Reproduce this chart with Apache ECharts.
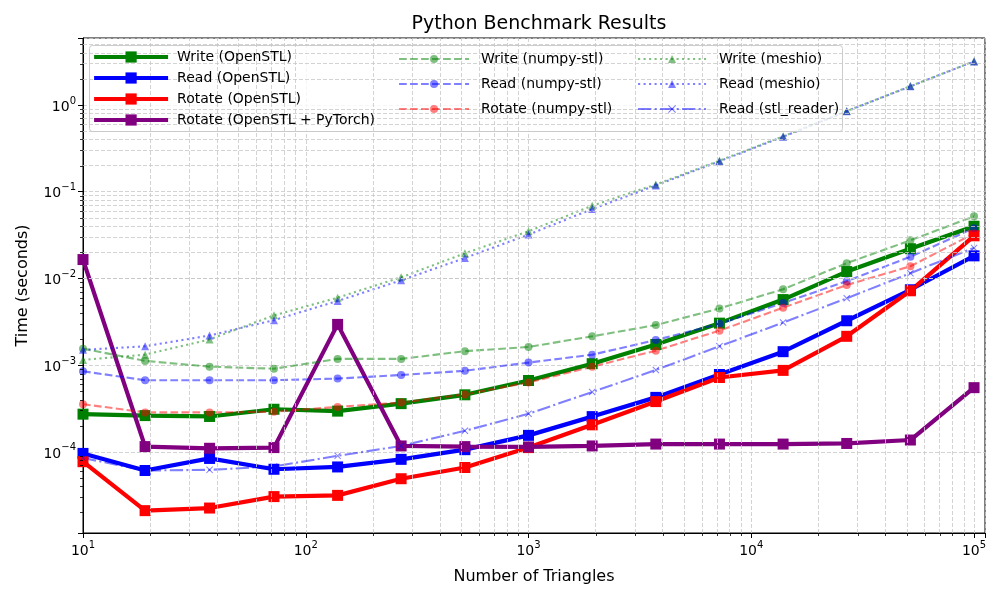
<!DOCTYPE html>
<html>
<head>
<meta charset="utf-8">
<script src="https://cdn.jsdelivr.net/npm/echarts@6/dist/echarts.min.js"></script>
<style>
html,body{margin:0;padding:0;background:#fff;}
#chart{width:1000px;height:600px;}
</style>
</head>
<body>
<div id="chart"></div>
<script>
// ---- data ----
const triangles = [10, 19, 37, 72, 139, 268, 518, 1000, 1931, 3728, 7197, 13895, 26827, 51795, 100000];

const writeOpenSTL  = [2.72e-4, 2.62e-4, 2.56e-4, 3.1e-4, 2.95e-4, 3.6e-4, 4.55e-4, 6.65e-4, 1.04e-3, 1.73e-3, 3.05e-3, 5.7e-3, 1.2e-2, 2.2e-2, 4.0e-2];
const readOpenSTL   = [9.6e-5, 6.1e-5, 8.4e-5, 6.3e-5, 6.7e-5, 8.2e-5, 1.06e-4, 1.55e-4, 2.55e-4, 4.25e-4, 7.8e-4, 1.43e-3, 3.25e-3, 7.4e-3, 1.82e-2];
const rotateOpenSTL = [7.7e-5, 2.1e-5, 2.25e-5, 3.05e-5, 3.15e-5, 4.9e-5, 6.6e-5, 1.12e-4, 2.05e-4, 3.8e-4, 7.2e-4, 8.7e-4, 2.15e-3, 7.2e-3, 3.1e-2];
const rotateTorch   = [1.65e-2, 1.15e-4, 1.1e-4, 1.12e-4, 2.95e-3, 1.17e-4, 1.15e-4, 1.14e-4, 1.17e-4, 1.23e-4, 1.23e-4, 1.23e-4, 1.25e-4, 1.37e-4, 5.5e-4];
const writeNumpy    = [1.55e-3, 1.12e-3, 9.6e-4, 9.1e-4, 1.18e-3, 1.18e-3, 1.45e-3, 1.62e-3, 2.15e-3, 2.9e-3, 4.5e-3, 7.5e-3, 1.5e-2, 2.75e-2, 5.2e-2];
const readNumpy     = [8.5e-4, 6.7e-4, 6.7e-4, 6.7e-4, 7.0e-4, 7.7e-4, 8.6e-4, 1.07e-3, 1.32e-3, 1.95e-3, 3.0e-3, 5.2e-3, 9.3e-3, 1.78e-2, 3.8e-2];
const rotateNumpy   = [3.55e-4, 2.85e-4, 2.85e-4, 2.9e-4, 3.3e-4, 3.7e-4, 4.6e-4, 6.3e-4, 9.6e-4, 1.47e-3, 2.5e-3, 4.6e-3, 8.4e-3, 1.38e-2, 3.3e-2];
const writeMeshio   = [1.15e-3, 1.32e-3, 1.98e-3, 3.75e-3, 6.0e-3, 1.03e-2, 1.95e-2, 3.5e-2, 6.9e-2, 0.121, 0.228, 0.435, 0.85, 1.65, 3.2];
const readMeshio    = [1.5e-3, 1.65e-3, 2.2e-3, 3.3e-3, 5.5e-3, 9.5e-3, 1.72e-2, 3.2e-2, 6.3e-2, 0.118, 0.224, 0.43, 0.845, 1.64, 3.18];
const readStlReader = [8.5e-5, 6.1e-5, 6.2e-5, 6.8e-5, 9.0e-5, 1.17e-4, 1.75e-4, 2.75e-4, 4.9e-4, 8.8e-4, 1.65e-3, 3.1e-3, 5.9e-3, 1.15e-2, 2.25e-2];

const names = {
  w1: 'Write (OpenSTL)', r1: 'Read (OpenSTL)', o1: 'Rotate (OpenSTL)', o2: 'Rotate (OpenSTL + PyTorch)',
  w2: 'Write (numpy-stl)', r2: 'Read (numpy-stl)', o3: 'Rotate (numpy-stl)',
  w3: 'Write (meshio)', r3: 'Read (meshio)', r4: 'Read (stl_reader)'
};

// ---- chart ----
const FONT = 'DejaVu Sans';
const xMin = 10, xMax = 112000, yMin = 1.16e-5, yMax = 5.92;

function pairs(arr) { return triangles.map((x, i) => [x, arr[i]]); }

function minorLines(lo, hi) {
  const out = [];
  for (let e = Math.floor(Math.log10(lo)); e <= Math.ceil(Math.log10(hi)); e++) {
    for (let m = 2; m <= 9; m++) {
      const v = m * Math.pow(10, e);
      if (v > lo && v < hi) out.push(v);
    }
  }
  return out;
}
const minorX = minorLines(xMin, xMax);
const minorY = minorLines(yMin, yMax);

function expLabel(v) {
  const l = Math.log10(v);
  const r = Math.round(l);
  if (Math.abs(l - r) > 1e-6) return '';
  const s = r < 0 ? '\u2212' + (-r) : String(r);
  return '{b|10}{s|' + s + '}';
}

const labelRich = {
  b: { fontSize: 14, fontFamily: FONT, color: '#000', lineHeight: 18, verticalAlign: 'bottom' },
  s: { fontSize: 10, fontFamily: FONT, color: '#000', lineHeight: 11, verticalAlign: 'top' }
};

const dashed = [7.7, 3.3];
const dotted = [2.1, 3.4];
const dashdot = [13.3, 3.3, 2.1, 3.3];
const xPath = 'path://M0,1L1,0L5,4L9,0L10,1L6,5L10,9L9,10L5,6L1,10L0,9L4,5Z';

function heavy(name, arr, color) {
  return {
    name, type: 'line', data: pairs(arr), symbol: 'rect', symbolSize: 11,
    lineStyle: { color, width: 4.2 }, itemStyle: { color }, z: 3
  };
}
function light(name, arr, color, symbol, size, type) {
  return {
    name, type: 'line', data: pairs(arr), symbol, symbolSize: size,
    lineStyle: { color, width: 2.1, type, opacity: 0.5 },
    itemStyle: { color, opacity: 0.5 }, z: 3
  };
}

const gridStyle = { color: '#c8c8c8', width: 0.8, type: [4, 2] };

function minorTickSeries(vals, isX) {
  return {
    type: 'custom', silent: true, clip: false, z: 4,
    data: vals.map(v => isX ? [v, yMin] : [xMin, v]),
    renderItem: function (params, api) {
      const p = api.coord([api.value(0), api.value(1)]);
      const shape = isX
        ? { x1: Math.round(p[0]) + 0.5, y1: p[1], x2: Math.round(p[0]) + 0.5, y2: p[1] + 3 }
        : { x1: p[0] - 3, y1: Math.round(p[1]) + 0.5, x2: p[0], y2: Math.round(p[1]) + 0.5 };
      return { type: 'line', shape, style: { stroke: '#000', lineWidth: 0.8 } };
    }
  };
}

const option = {
  animation: false,
  backgroundColor: '#fff',
  title: {
    text: 'Python Benchmark Results', left: 534, top: 10, textAlign: 'center',
    textStyle: { fontFamily: FONT, fontSize: 19, fontWeight: 'normal', color: '#000' }
  },
  grid: { left: 83, right: 15, top: 38, bottom: 67, show: true, borderColor: '#000', borderWidth: 1, backgroundColor: 'transparent' },
  xAxis: {
    type: 'log', logBase: 10, min: xMin, max: xMax,
    name: 'Number of Triangles', nameLocation: 'middle', nameGap: 36,
    nameTextStyle: { fontFamily: FONT, fontSize: 16, color: '#000' },
    axisLine: { show: true, lineStyle: { color: '#000', width: 1 } },
    axisTick: { show: true, inside: false, length: 5, lineStyle: { color: '#000' } },
    axisLabel: { margin: 7, formatter: expLabel, rich: labelRich, showMinLabel: true, showMaxLabel: true },
    splitLine: { show: true, lineStyle: gridStyle }
  },
  yAxis: {
    type: 'log', logBase: 10, min: yMin, max: yMax,
    name: 'Time (seconds)', nameLocation: 'middle', nameGap: 52,
    nameTextStyle: { fontFamily: FONT, fontSize: 16, color: '#000' },
    axisLine: { show: true, lineStyle: { color: '#000', width: 1 } },
    axisTick: { show: true, inside: false, length: 5, lineStyle: { color: '#000' } },
    axisLabel: { margin: 7, formatter: expLabel, rich: labelRich },
    splitLine: { show: true, lineStyle: gridStyle }
  },
  graphic: [{
    type: 'rect', z: 5, silent: true,
    shape: { x: 89.5, y: 45.5, width: 753, height: 86, r: 3 },
    style: { fill: 'rgba(255,255,255,0.8)', stroke: '#cccccc', lineWidth: 1 }
  }],
  legend: [
    {
      data: [names.w1, names.r1, names.o1, names.o2], orient: 'vertical', left: 92, top: 50,
      itemWidth: 74, itemHeight: 14, itemGap: 7, padding: 0, z: 6,
      lineStyle: { width: 4.2 },
      textStyle: { fontFamily: FONT, fontSize: 14, color: '#000', padding: [0, 0, 0, 4] }
    },
    {
      data: [names.w2, names.r2, names.o3], orient: 'vertical', left: 398, top: 52,
      itemWidth: 70, itemHeight: 10, itemGap: 11, padding: 0, z: 6,
      lineStyle: { width: 2.1 },
      textStyle: { fontFamily: FONT, fontSize: 14, color: '#000', padding: [0, 0, 0, 7] }
    },
    {
      data: [names.w3, names.r3, names.r4], orient: 'vertical', left: 637, top: 52,
      itemWidth: 68, itemHeight: 10, itemGap: 11, padding: 0, z: 6,
      lineStyle: { width: 2.1 },
      textStyle: { fontFamily: FONT, fontSize: 14, color: '#000', padding: [0, 0, 0, 8] }
    }
  ],
  series: [
    {
      name: 'minor-grid', type: 'line', data: [], silent: true, z: 1,
      markLine: {
        silent: true, symbol: 'none', label: { show: false },
        lineStyle: gridStyle, emphasis: { disabled: true },
        data: minorX.map(v => ({ xAxis: v })).concat(minorY.map(v => ({ yAxis: v })))
      }
    },
    minorTickSeries(minorX, true),
    minorTickSeries(minorY, false),
    heavy(names.w1, writeOpenSTL, '#008000'),
    heavy(names.r1, readOpenSTL, '#0000ff'),
    heavy(names.o1, rotateOpenSTL, '#ff0000'),
    heavy(names.o2, rotateTorch, '#800080'),
    light(names.w2, writeNumpy, '#008000', 'circle', 8, dashed),
    light(names.r2, readNumpy, '#0000ff', 'circle', 8, dashed),
    light(names.o3, rotateNumpy, '#ff0000', 'circle', 8, dashed),
    light(names.w3, writeMeshio, '#008000', 'triangle', 8, dotted),
    light(names.r3, readMeshio, '#0000ff', 'triangle', 8, dotted),
    light(names.r4, readStlReader, '#0000ff', xPath, 7, dashdot)
  ]
};

const chart = echarts.init(document.getElementById('chart'), null, { renderer: 'canvas' });
chart.setOption(option);
</script>
</body>
</html>
